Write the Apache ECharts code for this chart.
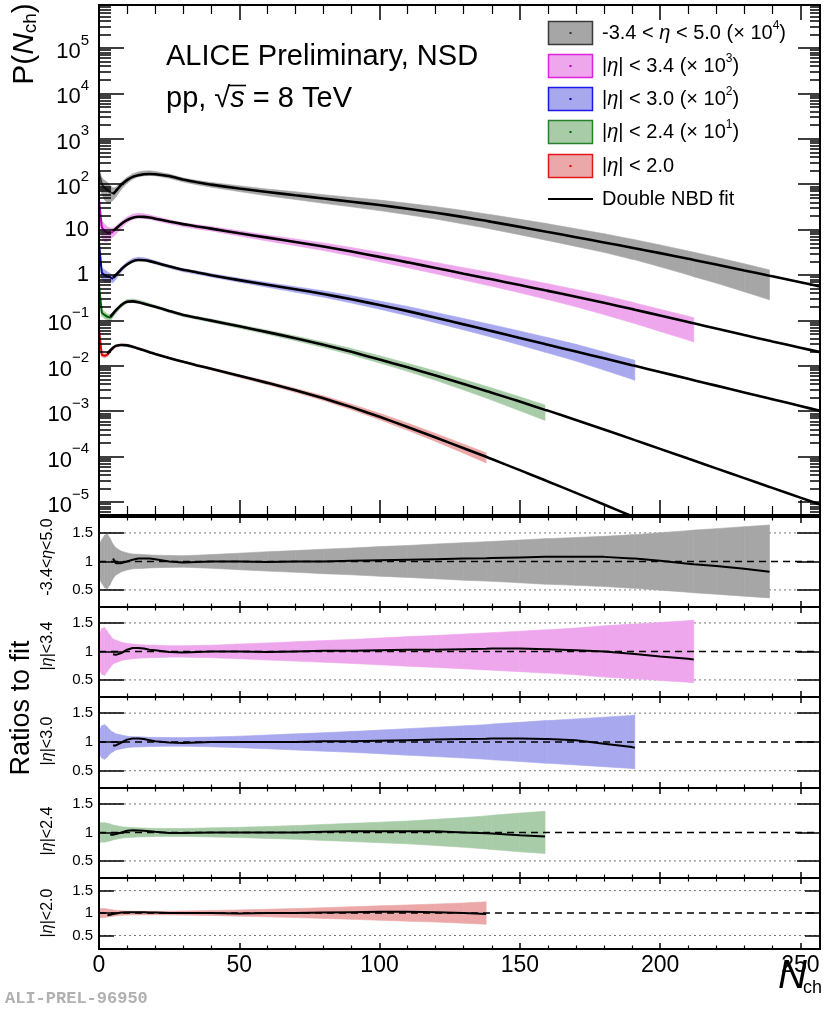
<!DOCTYPE html>
<html>
<head>
<meta charset="utf-8">
<script src="https://cdn.jsdelivr.net/npm/echarts@6/dist/echarts.min.js"></script>
<style>html,body{margin:0;padding:0;background:#fff}#c{width:830px;height:1009px}</style>
</head>
<body>
<div id="c"></div>
<script>
// ---------------- data ----------------
// common N_ch grid (includes the last bin of every data set)
const nGrid = [0,1,2,3,4,5,6,8,10,12,14,16,18,20,25,30,35,40,50,60,70,80,90,100,110,120,130,138,140,150,159,160,170,180,190,191,200,210,212,220,230,239,240,250,257];
// plotted value = P(Nch) x scale
const scales = [1e4, 1e3, 1e2, 1e1, 1];
const legendLabels = ['-3.4 < η < 5.0 (× 10⁴)', '|η| < 3.4 (× 10³)', '|η| < 3.0 (× 10²)', '|η| < 2.4 (× 10¹)', '|η| < 2.0', 'Double NBD fit'];
const panelLabels = ['-3.4<η<5.0', '|η|<3.4', '|η|<3.0', '|η|<2.4', '|η|<2.0'];
const xTickLabels = [0, 50, 100, 150, 200, 250];
const yDecades = [-5,-4,-3,-2,-1,0,1,2,3,4,5];
const ratioTicks = [0.5, 1, 1.5];

// Double NBD fits, P(Nch)
const fitEta50 = [null,null,null,null,null,6.03e-3,7.08e-3,9.77e-3,1.23e-2,1.45e-2,1.58e-2,1.66e-2,1.68e-2,1.66e-2,1.51e-2,1.27e-2,1.10e-2,9.77e-3,8.04e-3,6.75e-3,5.70e-3,4.84e-3,4.11e-3,3.47e-3,2.88e-3,2.36e-3,1.88e-3,1.56e-3,1.48e-3,1.15e-3,9.08e-4,8.85e-4,6.81e-4,5.22e-4,3.99e-4,3.88e-4,3.03e-4,2.28e-4,2.15e-4,1.70e-4,1.26e-4,9.64e-5,9.36e-5,6.93e-5,5.62e-5];
const fitEta34 = [null,null,null,null,null,9.33e-3,1.05e-2,1.35e-2,1.62e-2,1.82e-2,1.92e-2,1.91e-2,1.84e-2,1.74e-2,1.51e-2,1.32e-2,1.17e-2,1.05e-2,8.30e-3,6.65e-3,5.33e-3,4.23e-3,3.29e-3,2.51e-3,1.90e-3,1.43e-3,1.07e-3,8.51e-4,8.04e-4,6.00e-4,4.60e-4,4.47e-4,3.32e-4,2.44e-4,1.78e-4,1.72e-4,1.28e-4,9.20e-5,8.61e-5,6.61e-5,4.76e-5,3.56e-5,3.44e-5,2.50e-5,2.00e-5];
const fitEta30 = [null,null,null,null,null,8.71e-3,1.00e-2,1.35e-2,1.70e-2,2.00e-2,2.14e-2,2.11e-2,2.02e-2,1.88e-2,1.55e-2,1.30e-2,1.14e-2,9.89e-3,7.71e-3,6.11e-3,4.86e-3,3.82e-3,2.92e-3,2.18e-3,1.60e-3,1.15e-3,8.18e-4,6.22e-4,5.81e-4,4.11e-4,3.01e-4,2.91e-4,2.06e-4,1.46e-4,1.03e-4,9.98e-5,7.31e-5,5.18e-5,4.83e-5,3.66e-5,2.59e-5,1.90e-5,1.84e-5,1.30e-5,1.02e-5];
const fitEta24 = [null,null,null,null,1.20e-2,1.41e-2,1.66e-2,2.19e-2,2.57e-2,2.63e-2,2.51e-2,2.34e-2,2.16e-2,2.00e-2,1.62e-2,1.32e-2,1.14e-2,9.89e-3,7.41e-3,5.52e-3,4.06e-3,2.91e-3,2.03e-3,1.38e-3,9.25e-4,6.10e-4,3.97e-4,2.80e-4,2.56e-4,1.63e-4,1.07e-4,1.03e-4,6.40e-5,3.95e-5,2.43e-5,2.31e-5,1.48e-5,9.04e-6,8.18e-6,5.51e-6,3.36e-6,2.15e-6,2.05e-6,1.25e-6,8.83e-7];
const fitEta20 = [null,null,null,1.86e-2,2.19e-2,2.51e-2,2.75e-2,2.88e-2,2.82e-2,2.63e-2,2.40e-2,2.19e-2,2.00e-2,1.82e-2,1.48e-2,1.23e-2,1.02e-2,8.61e-3,6.03e-3,4.21e-3,2.89e-3,1.93e-3,1.23e-3,7.53e-4,4.50e-4,2.64e-4,1.53e-4,9.89e-5,8.83e-5,5.04e-5,3.01e-5,2.84e-5,1.59e-5,8.83e-6,4.86e-6,4.58e-6,2.67e-6,null,null,null,null,null,null,null,null];

// data / fit ratios
const ratioEta50 = [null,null,null,null,null,1.05,0.97,0.97,1.0,1.03,1.05,1.05,1.05,1.04,1.0,0.98,0.99,1.0,1.0,0.99,1.0,1.0,1.01,1.02,1.03,1.04,1.05,1.055,1.06,1.07,1.08,1.08,1.08,1.08,1.05,1.05,1.01,0.96,0.95,0.92,0.87,0.82,null,null,null];
const ratioEta34 = [null,null,null,null,null,0.95,0.94,0.97,1.03,1.06,1.06,1.05,1.03,1.02,0.99,0.98,0.99,1.0,1.0,0.99,1.0,1.01,1.01,1.02,1.03,1.03,1.04,1.045,1.05,1.05,1.04,1.04,1.02,1.0,0.96,0.955,0.91,0.87,0.86,null,null,null,null,null,null];
const ratioEta30 = [null,null,null,null,null,0.94,0.94,0.99,1.04,1.06,1.06,1.05,1.03,1.01,0.99,0.98,0.99,1.0,1.0,1.0,1.0,1.01,1.01,1.02,1.03,1.04,1.05,1.055,1.06,1.06,1.05,1.05,1.03,0.97,0.91,0.9,null,null,null,null,null,null,null,null,null];
const ratioEta24 = [null,null,null,null,0.96,0.96,0.97,1.0,1.03,1.04,1.035,1.03,1.02,1.01,0.99,0.99,0.995,1.0,1.0,1.0,1.0,1.01,1.02,1.02,1.02,1.02,1.0,0.985,0.98,0.95,0.93,null,null,null,null,null,null,null,null,null,null,null,null,null,null];
const ratioEta20 = [null,null,null,0.95,0.96,0.98,0.99,1.01,1.02,1.02,1.02,1.02,1.01,1.01,1.0,1.0,1.0,1.0,0.99,1.0,1.0,1.01,1.02,1.03,1.03,1.02,1.0,0.98,null,null,null,null,null,null,null,null,null,null,null,null,null,null,null,null,null];

// relative uncertainties of the data
const errEta50 = [0.3,0.38,0.46,0.48,0.4,0.3,0.24,0.18,0.15,0.13,0.125,0.12,0.115,0.11,0.105,0.10,0.11,0.12,0.145,0.17,0.19,0.215,0.235,0.26,0.28,0.305,0.33,0.345,0.35,0.375,0.4,0.4,0.42,0.44,0.47,0.47,0.505,0.54,0.55,0.575,0.61,0.64,null,null,null];
const errEta34 = [0.3,0.4,0.42,0.35,0.28,0.22,0.2,0.16,0.14,0.13,0.12,0.115,0.11,0.11,0.1,0.1,0.105,0.11,0.13,0.15,0.17,0.19,0.21,0.235,0.26,0.28,0.305,0.325,0.33,0.355,0.38,0.38,0.41,0.45,0.48,0.48,0.51,0.54,0.55,null,null,null,null,null,null];
const errEta30 = [0.2,0.28,0.3,0.26,0.2,0.17,0.14,0.12,0.1,0.09,0.088,0.085,0.08,0.08,0.075,0.075,0.08,0.085,0.1,0.12,0.14,0.16,0.18,0.205,0.23,0.255,0.28,0.3,0.31,0.34,0.37,0.37,0.4,0.43,0.46,0.47,null,null,null,null,null,null,null,null,null];
const errEta24 = [0.17,0.17,0.17,0.16,0.15,0.13,0.12,0.1,0.09,0.085,0.08,0.078,0.075,0.07,0.07,0.07,0.075,0.08,0.09,0.105,0.12,0.14,0.16,0.18,0.2,0.23,0.26,0.29,0.3,0.34,0.37,null,null,null,null,null,null,null,null,null,null,null,null,null,null];
const errEta20 = [0.1,0.1,0.1,0.09,0.08,0.07,0.06,0.05,0.045,0.04,0.04,0.04,0.04,0.04,0.04,0.045,0.05,0.055,0.07,0.085,0.1,0.12,0.14,0.16,0.18,0.2,0.225,0.25,null,null,null,null,null,null,null,null,null,null,null,null,null,null,null,null,null];

// data values below the fit range (Nch = 0..4), P(Nch)
const lowEta50 = [1.78e-2,1.00e-2,8.32e-3,7.41e-3,6.61e-3];
const lowEta34 = [4.47e-2,1.12e-2,9.33e-3,8.51e-3,8.51e-3];
const lowEta30 = [5.01e-2,1.12e-2,1.00e-2,9.33e-3,8.91e-3];
const lowEta24 = [6.03e-2,1.48e-2,1.32e-2,1.20e-2,null];
const lowEta20 = [6.31e-2,1.74e-2,1.66e-2,null,null];

// ---------------- styling / layout ----------------
const FONT = "'Liberation Sans', Arial, Helvetica, sans-serif";
const sets = [
  {fit: fitEta50, ratio: ratioEta50, err: errEta50, low: lowEta50, fill: '#a6a6a6', edge: '#3a3a3a', dot: '#333333'},
  {fit: fitEta34, ratio: ratioEta34, err: errEta34, low: lowEta34, fill: '#eea6ec', edge: '#e020e0', dot: '#b000b0'},
  {fit: fitEta30, ratio: ratioEta30, err: errEta30, low: lowEta30, fill: '#a8a8ee', edge: '#1818e8', dot: '#000090'},
  {fit: fitEta24, ratio: ratioEta24, err: errEta24, low: lowEta24, fill: '#a8cca8', edge: '#288028', dot: '#006000'},
  {fit: fitEta20, ratio: ratioEta20, err: errEta20, low: lowEta20, fill: '#eca8a8', edge: '#e01818', dot: '#e00000'}
];
const XMAX = 257;
const LMIN = -5.286, LMAX = 5.947;   // log10 range of the top panel
const RMIN = 0.2, RMAX = 1.78;        // ratio panel range

const grids = [
  {left: 99, top: 5, width: 721, height: 510},
  {left: 99, top: 517, width: 721, height: 90},
  {left: 99, top: 607, width: 721, height: 90},
  {left: 99, top: 697, width: 721, height: 91},
  {left: 99, top: 788, width: 721, height: 90},
  {left: 99, top: 878, width: 721, height: 71}
].map(g => Object.assign(g, {show: true, borderColor: '#000', borderWidth: 2, backgroundColor: 'transparent', z: 8, containLabel: false, outerBoundsMode: 'none'}));

function xAx(g, pos, showLabel, major, minor) {
  return {
    type: 'value', gridIndex: g, position: pos, min: 0, max: XMAX, interval: 50, z: 10,
    axisLine: {show: false, onZero: false},
    axisTick: {show: true, inside: true, length: major, lineStyle: {color: '#000', width: 1.5}},
    minorTick: {show: true, splitNumber: 5, length: minor, lineStyle: {color: '#000', width: 1.2}},
    splitLine: {show: false}, minorSplitLine: {show: false},
    axisLabel: {show: showLabel, showMaxLabel: false, showMinLabel: true, margin: 5, fontSize: 23, fontFamily: FONT, color: '#000',
      formatter: v => xTickLabels.indexOf(Math.round(v)) >= 0 ? String(Math.round(v)) : ''}
  };
}
function yAx(g, pos, min, max, ticks, len, label) {
  const a = {
    type: 'value', gridIndex: g, position: pos, min: min, max: max, z: 10,
    axisLine: {show: false, onZero: false},
    axisTick: {show: true, inside: true, length: len, customValues: ticks, lineStyle: {color: '#000', width: 1.5}},
    splitLine: {show: false},
    axisLabel: {show: false}
  };
  if (label) a.axisLabel = Object.assign({show: true, customValues: ticks}, label);
  return a;
}

const minorLog = [];
for (let n = -6; n <= 5; n++) for (let k = 2; k <= 9; k++) {
  const v = n + Math.log10(k);
  if (v > LMIN && v < LMAX) minorLog.push(v);
}

const xAxes = [];
for (let g = 0; g < 6; g++) {
  const main = g === 0;
  xAxes.push(xAx(g, 'bottom', g === 5, main ? 15 : 6, main ? 9 : 3.5));
  xAxes.push(xAx(g, 'top', false, main ? 15 : 6, main ? 9 : 3.5));
}

const mainLabel = {
  margin: 10, color: '#000', fontSize: 22, fontFamily: FONT,
  formatter: v => {
    const n = Math.round(v);
    if (n === 0) return '1';
    if (n === 1) return '10';
    return '{b|10}{e|' + (n < 0 ? '\u2212' + (-n) : n) + '}{h|\u200b}';
  },
  rich: {
    b: {fontSize: 22, fontFamily: FONT, lineHeight: 22, verticalAlign: 'bottom', color: '#000'},
    e: {fontSize: 15, fontFamily: FONT, lineHeight: 15, verticalAlign: 'top', color: '#000'},
    h: {fontSize: 14, fontFamily: FONT, lineHeight: 30}
  }
};
const yAxes = [
  yAx(0, 'left', LMIN, LMAX, yDecades, 25, mainLabel),
  yAx(0, 'left', LMIN, LMAX, minorLog, 12),
  yAx(0, 'right', LMIN, LMAX, yDecades, 22),
  yAx(0, 'right', LMIN, LMAX, minorLog, 10)
];
for (let k = 1; k <= 5; k++) {
  const len = k === 5 ? 15 : 25;
  yAxes.push(yAx(k, 'left', RMIN, RMAX, ratioTicks, len,
    {margin: 6, color: '#000', fontSize: 15, fontFamily: FONT, formatter: v => String(Math.round(v * 10) / 10)}));
  yAxes.push(yAx(k, 'right', RMIN, RMAX, ratioTicks, k === 5 ? 15 : 23));
}

// ---------------- series ----------------
function bandSeries(segs, color, xi, yi, z) {
  return {
    type: 'custom', xAxisIndex: xi, yAxisIndex: yi, z: z, clip: true, silent: true,
    data: segs,
    renderItem: (params, api) => {
      const a = api.coord([api.value(0), api.value(1)]);
      const b = api.coord([api.value(0), api.value(2)]);
      const c = api.coord([api.value(3), api.value(5)]);
      const d = api.coord([api.value(3), api.value(4)]);
      return {type: 'polygon', shape: {points: [a, b, c, d]}, style: {fill: color, stroke: color, lineWidth: 0.6}};
    }
  };
}
function centerVal(s, i) {
  if (s.fit[i] != null && s.ratio[i] != null) return s.fit[i] * s.ratio[i];
  if (i < s.low.length && s.low[i] != null) return s.low[i];
  return null;
}

const series = [];
sets.forEach((s, si) => {
  const sc = scales[si];
  // main panel: data with uncertainty band
  const segs = [];
  for (let i = 0; i < nGrid.length - 1; i++) {
    const c0 = centerVal(s, i), c1 = centerVal(s, i + 1);
    if (c0 == null || c1 == null || s.err[i] == null || s.err[i + 1] == null) continue;
    segs.push([nGrid[i], Math.log10(c0 * sc * (1 - s.err[i])), Math.log10(c0 * sc * (1 + s.err[i])),
               nGrid[i + 1], Math.log10(c1 * sc * (1 - s.err[i + 1])), Math.log10(c1 * sc * (1 + s.err[i + 1]))]);
  }
  series.push(bandSeries(segs, s.fill, 0, 0, 2));
  // data points at the lowest multiplicities
  const lowPts = [];
  for (let i = 0; i < nGrid.length && nGrid[i] <= 5; i++) {
    const c = centerVal(s, i);
    if (c != null) lowPts.push([nGrid[i], Math.log10(c * sc)]);
  }
  series.push({type: 'line', xAxisIndex: 0, yAxisIndex: 0, z: 3, data: lowPts, symbol: 'none', silent: true,
    lineStyle: {color: s.dot, width: 2}});
  // fit
  series.push({type: 'line', xAxisIndex: 0, yAxisIndex: 0, z: 4, clip: true, symbol: 'none', silent: true, smooth: 0.15,
    data: nGrid.map((n, i) => [n, s.fit[i] == null ? '-' : Math.log10(s.fit[i] * sc)]),
    lineStyle: {color: '#000', width: 2.6}});

  // ratio panel
  const gi = si + 1, xi = 2 * gi, yi = 4 + 2 * si;
  [0.5, 1.5].forEach(v => series.push({type: 'line', xAxisIndex: xi, yAxisIndex: yi, z: 1, symbol: 'none', silent: true,
    data: [[0, v], [XMAX, v]], lineStyle: {color: '#777', width: 1, type: [2, 3]}}));
  const rsegs = [];
  for (let i = 0; i < nGrid.length - 1; i++) {
    if (s.err[i] == null || s.err[i + 1] == null) continue;
    rsegs.push([nGrid[i], 1 - s.err[i], 1 + s.err[i], nGrid[i + 1], 1 - s.err[i + 1], 1 + s.err[i + 1]]);
  }
  series.push(bandSeries(rsegs, s.fill, xi, yi, 2));
  series.push({type: 'line', xAxisIndex: xi, yAxisIndex: yi, z: 3, symbol: 'none', silent: true,
    data: [[0, 1], [XMAX, 1]], lineStyle: {color: '#000', width: 1.5, type: [7, 5]}});
  series.push({type: 'line', xAxisIndex: xi, yAxisIndex: yi, z: 4, symbol: 'none', silent: true,
    data: nGrid.map((n, i) => [n, s.ratio[i] == null ? '-' : s.ratio[i]]),
    lineStyle: {color: '#000', width: 2}});
});

// ---------------- texts & legend ----------------
function tx(x, y, text, size, extra) {
  return Object.assign({type: 'text', x: x, y: y, z: 20, silent: true,
    style: Object.assign({text: text, fontSize: size, fontFamily: FONT, fill: '#000', align: 'left', verticalAlign: 'middle'}, (extra && extra.style) || {})},
    extra && extra.el || {});
}
function etaRich(size) {
  return {
    i: {fontStyle: 'italic', fontSize: size, fontFamily: FONT, fill: '#000'},
    s: {fontSize: Math.round(size * 0.62), fontFamily: FONT, fill: '#000', lineHeight: Math.round(size * 0.62), verticalAlign: 'top'},
    h: {fontSize: size, fontFamily: FONT, lineHeight: Math.round(size * 1.35)}
  };
}
function richEta(str) {
  // italic eta and superscript exponents as rich tokens
  return str.replace(/η/g, '{i|η}').replace(/([⁰¹²³⁴])/g, (m) => '{s|' + '⁰¹²³⁴'.indexOf(m) + '}{h|\u200b}');
}

const graphics = [];
graphics.push(tx(25, 44, 'P({i|N}{sub|ch})', 30, {el: {rotation: Math.PI / 2}, style: {align: 'center',
  rich: {i: {fontStyle: 'italic', fontSize: 30, fontFamily: FONT, fill: '#000'},
         sub: {fontSize: 19, fontFamily: FONT, fill: '#000', lineHeight: 19, verticalAlign: 'bottom'}}}}));
graphics.push(tx(22, 708, 'Ratios to fit', 27, {el: {rotation: Math.PI / 2}, style: {align: 'center'}}));
const panelCenters = [557, 646, 741, 831, 913];
panelLabels.forEach((t, k) => graphics.push(tx(48, panelCenters[k], richEta(t), 16,
  {el: {rotation: Math.PI / 2}, style: {align: 'center', rich: etaRich(16)}})));

graphics.push(tx(166, 57, 'ALICE Preliminary, NSD', 29));
graphics.push(tx(166, 99, 'pp, √{i|s} = 8 TeV', 29, {style: {rich: {i: {fontStyle: 'italic', fontSize: 29, fontFamily: FONT, fill: '#000'}}}}));
graphics.push({type: 'line', z: 20, silent: true, shape: {x1: 228, y1: 85.5, x2: 246, y2: 85.5}, style: {stroke: '#000', lineWidth: 1.6}});

// x-axis title
graphics.push(tx(778, 977, 'N', 40, {style: {fontStyle: 'italic'}}));
graphics.push(tx(803, 988, 'ch', 18));
// figure id
graphics.push(tx(5, 999, 'ALI-PREL-96950', 17, {style: {fontFamily: "'Liberation Mono', 'DejaVu Sans Mono', monospace", fontWeight: 'bold', fill: '#b0b0b0'}}));

// legend
const rowY = [33, 66, 99, 132, 166, 199];
sets.forEach((s, k) => {
  graphics.push({type: 'rect', z: 20, silent: true, shape: {x: 548.5, y: rowY[k] - 11.5, width: 44, height: 23},
    style: {fill: s.fill, stroke: s.edge, lineWidth: 1.5}});
  graphics.push({type: 'rect', z: 21, silent: true, shape: {x: 569.5, y: rowY[k] - 1, width: 2, height: 2}, style: {fill: s.dot}});
  graphics.push(tx(602, rowY[k], richEta(legendLabels[k]), 20, {style: {rich: etaRich(20)}}));
});
graphics.push({type: 'line', z: 20, silent: true, shape: {x1: 548, y1: rowY[5], x2: 593, y2: rowY[5]}, style: {stroke: '#000', lineWidth: 2}});
graphics.push(tx(602, rowY[5], legendLabels[5], 20));

const chart = echarts.init(document.getElementById('c'), null, {renderer: 'canvas'});
chart.setOption({
  animation: false,
  backgroundColor: '#fff',
  grid: grids,
  xAxis: xAxes,
  yAxis: yAxes,
  series: series,
  graphic: graphics
});
</script>
</body>
</html>
